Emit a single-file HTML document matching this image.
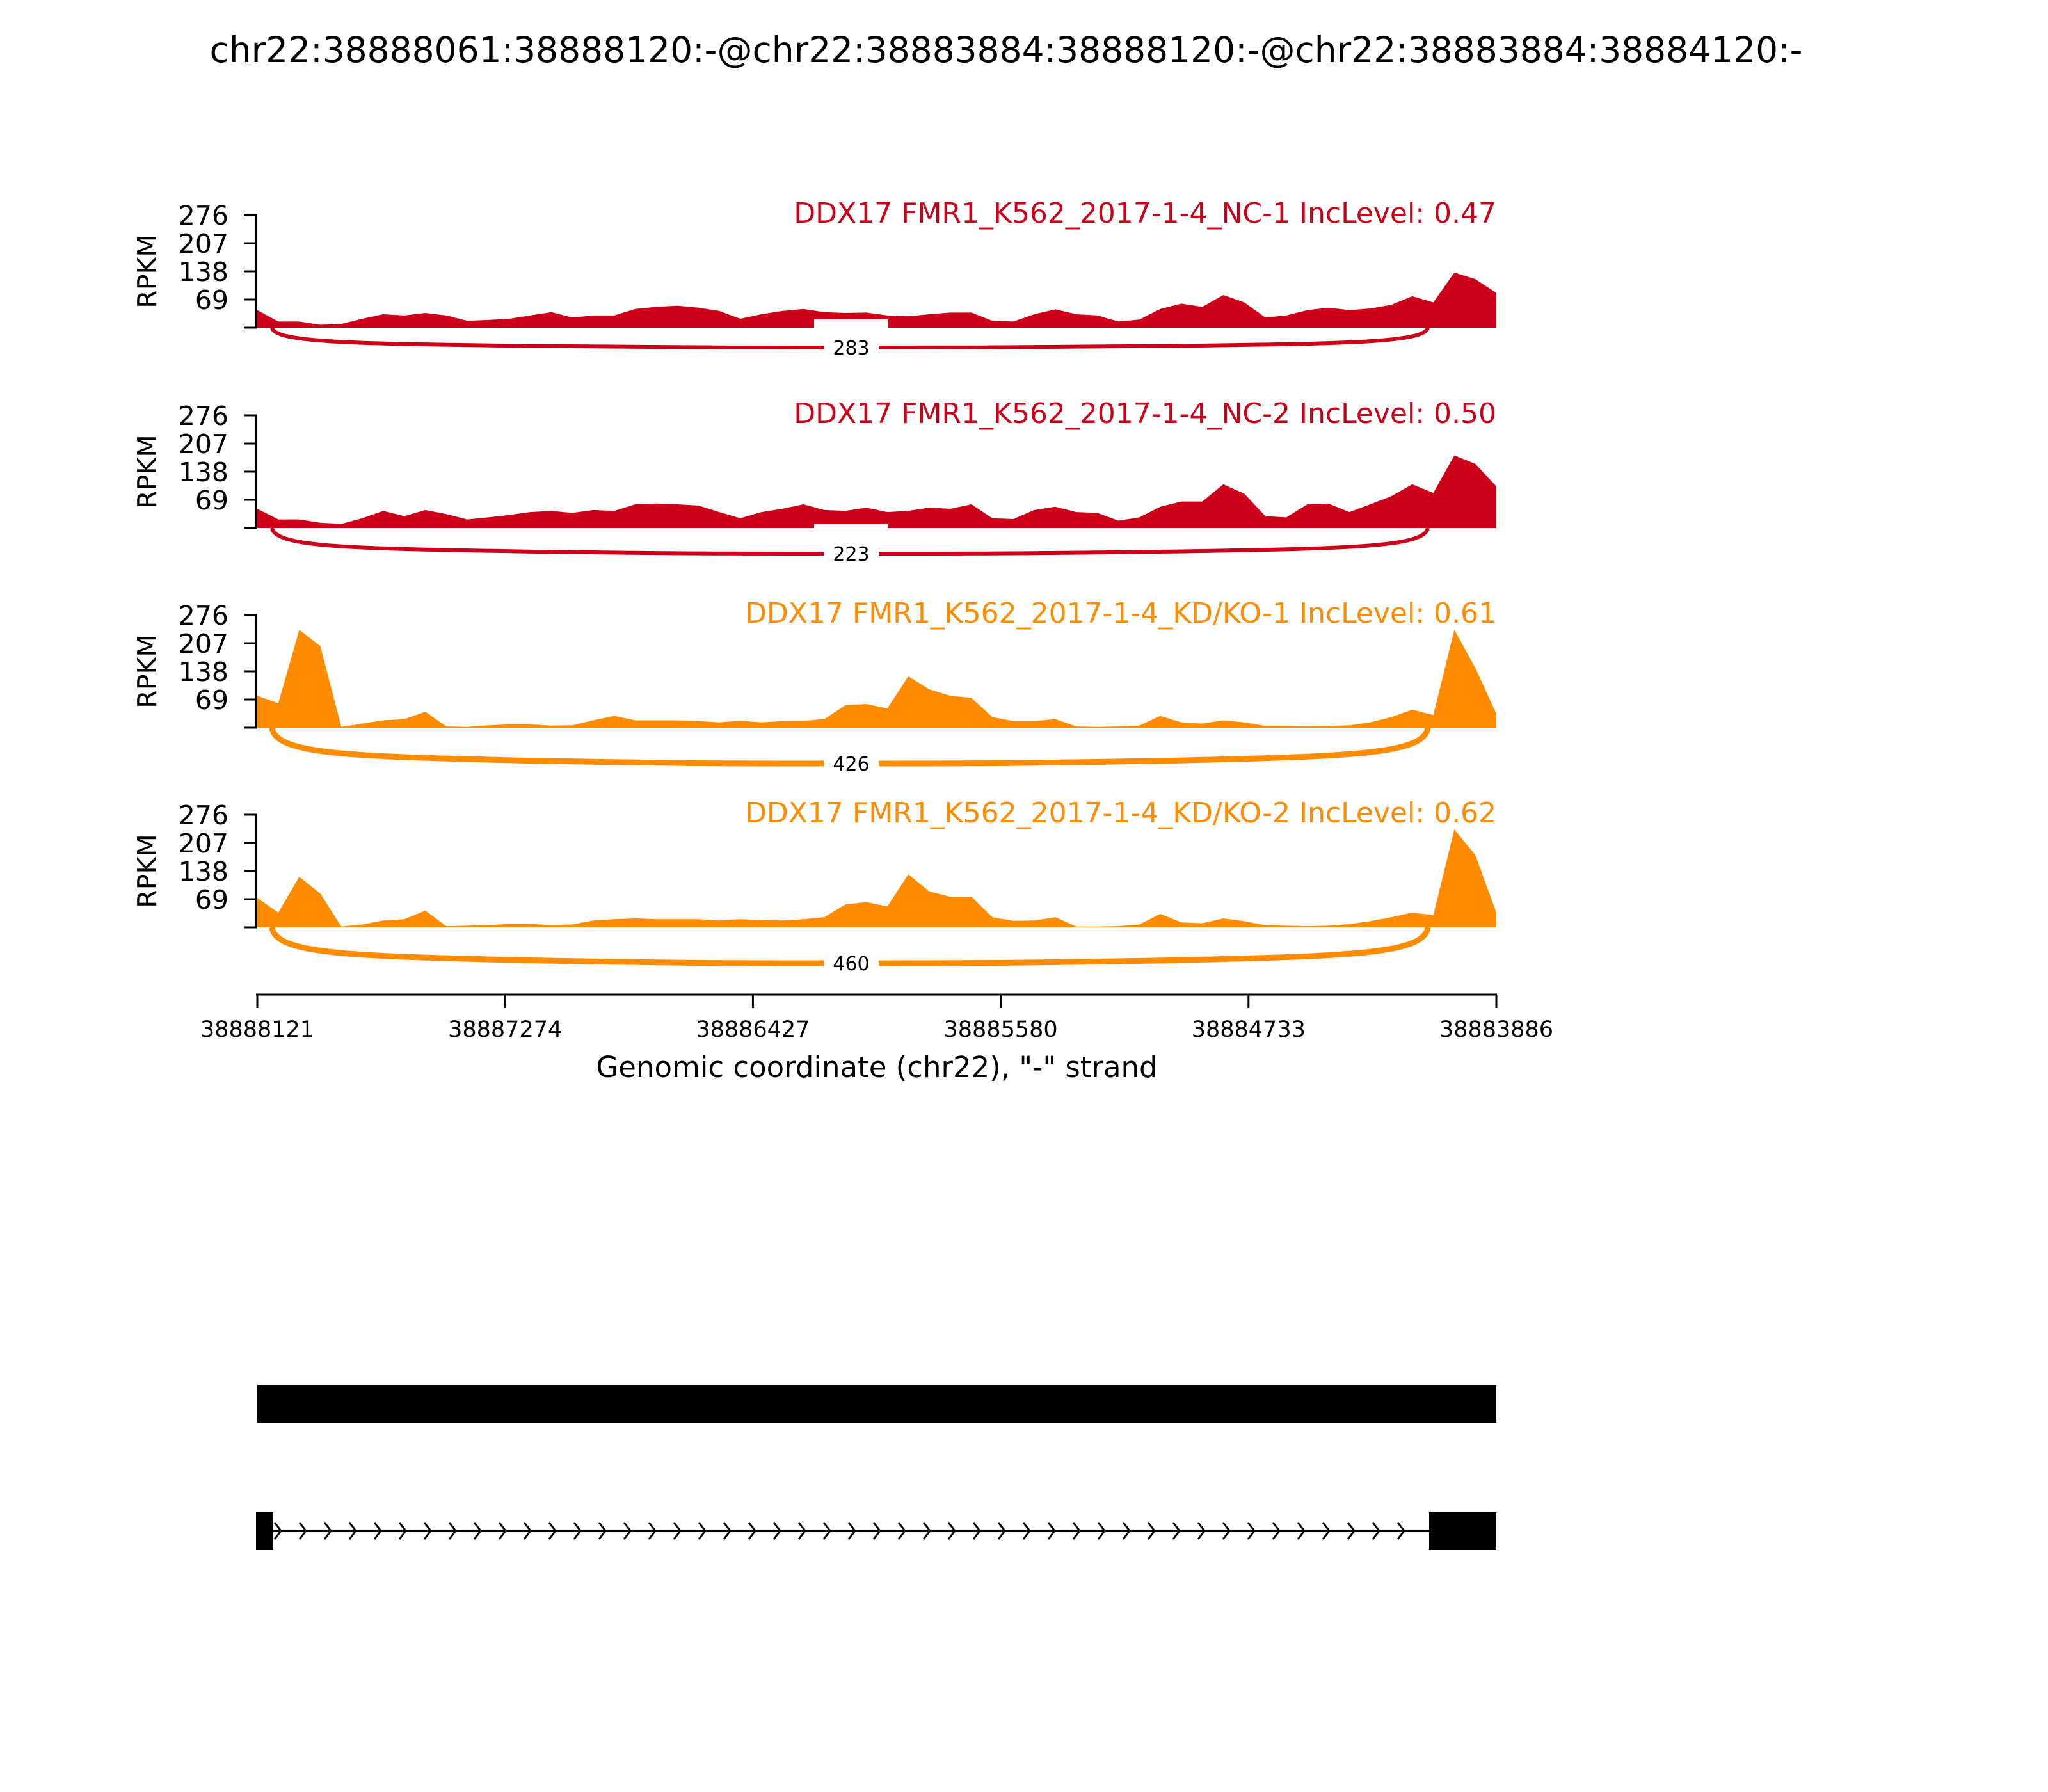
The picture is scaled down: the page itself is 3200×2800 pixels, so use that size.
<!DOCTYPE html>
<html><head><meta charset="utf-8"><style>
html,body{margin:0;padding:0;background:#fff;}
svg{display:block;font-family:"DejaVu Sans","Liberation Sans",sans-serif;}
</style></head><body>
<svg id="chart" width="3200" height="2800" viewBox="0 0 3200 2800" xmlns="http://www.w3.org/2000/svg">
<rect x="0" y="0" width="3200" height="2800" fill="#fff"/>
<text x="1572" y="97" font-size="55" text-anchor="middle">chr22:38888061:38888120:-@chr22:38883884:38888120:-@chr22:38883884:38884120:-</text>
<g id="panels"></g>
<g id="xaxis"></g>
<g id="genes"></g>
</svg>
<script>
const sampleNames = ["DDX17 FMR1_K562_2017-1-4_NC-1 IncLevel: 0.47","DDX17 FMR1_K562_2017-1-4_NC-2 IncLevel: 0.50","DDX17 FMR1_K562_2017-1-4_KD/KO-1 IncLevel: 0.61","DDX17 FMR1_K562_2017-1-4_KD/KO-2 IncLevel: 0.62"];
const junctionCounts = [283, 223, 426, 460];
const yTicks = [69, 138, 207, 276];
const xTickLabels = ["38888121","38887274","38886427","38885580","38884733","38883886"];
const cov1 = [43,15,15,7,9,22,33,30,36,30,17,19,22,30,38,25,30,30,46,51,54,49,41,22,33,41,46,38,36,37,30,28,33,37,37,17,15,33,45,33,30,15,20,46,59,51,80,62,25,30,43,49,43,47,56,77,62,135,119,85];
const cov2 = [47,21,21,13,10,24,42,29,44,34,21,26,32,39,42,37,44,42,58,60,58,55,39,24,39,47,58,44,42,50,39,42,50,47,58,24,22,44,52,39,37,18,26,52,65,65,107,84,29,26,58,60,39,58,78,107,86,178,157,102];
const cov3 = [78,60,240,200,2,10,18,21,39,3,2,6,8,8,5,6,18,29,18,18,18,16,13,17,13,16,17,21,55,58,47,126,94,78,73,26,16,16,21,3,2,3,5,29,13,10,18,13,4,4,3,4,6,13,26,44,31,240,146,34];
const cov4 = [72,36,124,83,2,7,17,20,41,3,4,6,8,8,6,7,17,20,22,20,20,20,17,20,18,17,20,25,56,62,51,130,88,75,75,25,16,17,25,2,2,3,7,33,12,10,22,15,5,4,3,4,8,15,25,36,30,240,177,36];
const coverage = [cov1, cov2, cov3, cov4];

const NS="http://www.w3.org/2000/svg";
const X0=402, X1=2338, YMAX=276, H=176;
const zeros=[512,825,1137,1449];
const colors=["#CC0018","#CC0018","#FF8C00","#FF8C00"];
const arcDepth=[31,40,56,56], arcWidth=[6,6,9,9];
const jx1=425, jx2=2231;
function el(tag, attrs, parent){const e=document.createElementNS(NS,tag);for(const k in attrs)e.setAttribute(k,attrs[k]);parent.appendChild(e);return e;}
function xPos(i,n){return X0+(X1-X0)*i/(n-1);}
function yPos(v,z){return z-v/YMAX*H;}
const panels=document.getElementById('panels');
for(let p=0;p<4;p++){
  const z=zeros[p], c=colors[p], d=coverage[p];
  const g=el('g',{},panels);
  
  
  let pts=`${X0},${z} `;
  d.forEach((v,i)=>{pts+=`${xPos(i,d.length).toFixed(1)},${yPos(v,z).toFixed(1)} `;});
  pts+=`${X1},${z}`;
  const area=el('polygon',{points:pts,fill:c},g);
  
  
  if(p<2){const wb=el('rect',{x:1272,y:z-(p==0?13:6),width:115,height:(p==0?13:6),fill:'#fff'},g);
    
    }
  const ax=el('line',{x1:400,y1:yPos(YMAX,z)-1.5,x2:400,y2:z+1.5,stroke:'#000','stroke-width':3},g);
  
  
  [0].concat(yTicks).forEach(t=>{
    const y=yPos(t,z);
    const tk=el('line',{x1:381,y1:y,x2:400,y2:y,stroke:'#000','stroke-width':3},g);
    
    
    if(t>0){const tl=el('text',{x:357,y:y+15,'font-size':41,'text-anchor':'end'},g);tl.textContent=t;
      
      }
  });
  const yl=el('text',{x:0,y:0,'font-size':41,'text-anchor':'middle',transform:`translate(244,${z-H/2}) rotate(-90)`},g);
  yl.textContent='RPKM';
  
  
  const lbl=el('text',{x:X1,y:z-164,'font-size':44,'text-anchor':'end',fill:c},g);
  lbl.textContent=sampleNames[p];
  
  
  const dep=arcDepth[p], by=z+dep, mid=(jx1+jx2)/2;
  const arc=el('path',{d:`M${jx1},${z} C${jx1+5},${z+dep*0.75} ${jx1+120},${z+dep*0.8} ${jx1+400},${z+dep*0.92} C${jx1+650},${by} ${mid-200},${by} ${mid},${by} C${mid+200},${by} ${jx2-650},${by} ${jx2-400},${z+dep*0.92} C${jx2-120},${z+dep*0.8} ${jx2-5},${z+dep*0.75} ${jx2},${z}`,fill:'none',stroke:c,'stroke-width':arcWidth[p]},g);
  
  
  const bx=el('rect',{x:1287,y:by-18,width:86,height:36,fill:'#fff'},g);
  
  
  const jt=el('text',{x:1330,y:by+11,'font-size':30,'text-anchor':'middle'},g);
  jt.textContent=junctionCounts[p];
  
  
}
const xa=document.getElementById('xaxis');
const xl=el('line',{x1:X0-2,y1:1554,x2:X1+1,y2:1554,stroke:'#000','stroke-width':3},xa);


xTickLabels.forEach((t,i)=>{
  const x=xPos(i,xTickLabels.length);
  const tk=el('line',{x1:x,y1:1554,x2:x,y2:1575,stroke:'#000','stroke-width':3},xa);
  
  
  const tl=el('text',{x:x,y:1620,'font-size':35,'text-anchor':'middle'},xa);tl.textContent=t;
  
  
});
const xt=el('text',{x:1370,y:1683,'font-size':45,'text-anchor':'middle'},xa);
xt.textContent='Genomic coordinate (chr22), "-" strand';


const gg=document.getElementById('genes');
const g1=el('rect',{x:X0,y:2164,width:X1-X0,height:59,fill:'#000'},gg);


const il=el('line',{x1:427,y1:2392,x2:2233,y2:2392,stroke:'#000','stroke-width':3},gg);


for(let x=439;x<2233;x+=39){
  const ch=el('polyline',{points:`${x-10},${2379} ${x},${2392} ${x-10},${2405}`,fill:'none',stroke:'#000','stroke-width':3},gg);
  
  
}
const e1=el('rect',{x:400,y:2363,width:27,height:59,fill:'#000'},gg);


const e2=el('rect',{x:2233,y:2363,width:X1-2233,height:59,fill:'#000'},gg);


</script>
</body></html>
